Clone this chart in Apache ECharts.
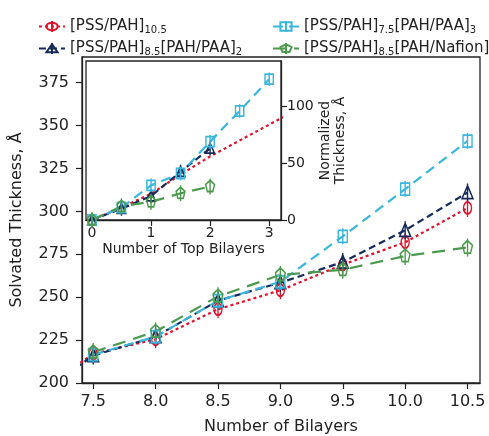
<!DOCTYPE html>
<html>
<head>
<meta charset="utf-8">
<script src="https://cdn.jsdelivr.net/npm/echarts@6/dist/echarts.min.js"></script>
<style>
  html, body { margin: 0; padding: 0; background: #fff; }
  #chart { width: 489px; height: 436px; }
</style>
</head>
<body>
<div id="chart"></div>
<script>
// main plot: solvated thickness vs number of bilayers (7.0 only feeds the clipped line start)
const bilayers = [7.0, 7.5, 8.0, 8.5, 9.0, 9.5, 10.0, 10.5];
const pssPah = [192, 217, 225.5, 243, 254, 269, 282, 302];
const pssPaa2 = [190, 216, 227, 248, 258.5, 270.5, 289, 311];
const pssPaa3 = [null, 216.5, 227, 248, 259, 285.5, 313, 341];
const pssNafion2 = [null, 218, 230, 250.5, 263, 266, 274, 279];

const xTicks = [7.5, 8.0, 8.5, 9.0, 9.5, 10.0, 10.5];
const yTicks = [200, 225, 250, 275, 300, 325, 350, 375];

// inset: normalized thickness vs number of top bilayers
const topBilayers = [0, 0.5, 1, 1.5, 2, 2.5, 3, 3.5];
const insetPssPah = [0, 11, 23, 40, 56, 70, 84, 98];
const insetPaa3 = [0, 11, 30.5, 41, 69, 96, 124];
const insetPaa2 = [0, 10, 21, 42.5, 63];
const insetNafion2 = [0, 12, 16, 23.5, 29.5];

const insetXTicks = [0, 1, 2, 3];
const insetYTicks = [0, 50, 100];

const legendText = {
  pah: '[PSS/PAH]{s|10.5}',
  paa2: '[PSS/PAH]{s|8.5}[PAH/PAA]{s|2}',
  paa3: '[PSS/PAH]{s|7.5}[PAH/PAA]{s|3}',
  nafion: '[PSS/PAH]{s|8.5}[PAH/Nafion]{s|2}'
};
const colors = { pah: '#e3122c', paa2: '#172a5c', paa3: '#3bb6dd', nafion: '#4c9a4e' };
const dashes = { pah: [3, 3], paa2: [7, 4], paa3: [10, 6], nafion: [13, 8] };

// open markers with the small error bar running through them
const symbols = {
  pah: 'path://M-6,0 A6,6 0 1 1 6,0 A6,6 0 1 1 -6,0 Z M0,-9 L0,9',
  paa2: 'path://M0,-7 L7,6 L-7,6 Z M0,-9 L0,9',
  paa3: 'path://M-6,-6 L6,-6 L6,6 L-6,6 Z M0,-8 L0,8',
  nafion: 'path://M0,-7 L6.66,-2.16 L4.11,5.66 L-4.11,5.66 L-6.66,-2.16 Z M0,-9 L0,9'
};
const symbolSizes = { pah: [12, 18], paa2: [14, 18], paa3: [12, 16], nafion: [13.3, 18] };

const font = 'DejaVu Sans';

function pairs(xs, ys) {
  let out = [];
  for (let i = 0; i < ys.length; i++) {
    if (ys[i] !== null) out.push([xs[i], ys[i]]);
  }
  return out;
}

function makeSeries(key, data, axis, opts) {
  return Object.assign({
    name: key,
    type: 'line',
    xAxisIndex: axis,
    yAxisIndex: axis,
    data: data,
    color: colors[key],
    symbol: symbols[key],
    symbolSize: symbolSizes[key],
    symbolKeepAspect: true,
    clip: true,
    z: axis ? 12 : 3,
    lineStyle: { color: colors[key], width: 2.2, type: dashes[key] },
    itemStyle: { color: 'rgba(255,255,255,0)', borderColor: colors[key], borderWidth: 1.6 },
    emphasis: { disabled: true },
    silent: true
  }, opts || {});
}

function legendBlock(keys, left) {
  return {
    data: keys,
    orient: 'vertical',
    left: left, top: 14,
    itemWidth: 26, itemHeight: 14, itemGap: 6,
    formatter: n => legendText[n],
    textStyle: {
      fontFamily: font, fontSize: 15, color: '#222',
      rich: { s: { fontFamily: font, fontSize: 10, padding: [7, 0, 0, 0], color: '#222' } }
    }
  };
}

const chart = echarts.init(document.getElementById('chart'));

const axisLine = { show: true, onZero: false, lineStyle: { color: '#222', width: 1.3 } };
const tickStyle = { color: '#222', width: 1.2 };

let option = {
  animation: false,
  backgroundColor: '#fff',
  textStyle: { fontFamily: font },
  legend: [legendBlock(['pah', 'paa2'], 33), legendBlock(['paa3', 'nafion'], 267)],
  grid: [
    { left: 82, top: 57, right: 9, bottom: 53, outerBoundsMode: 'none', show: true, borderColor: '#222', borderWidth: 1.3, backgroundColor: '#fff' },
    { left: 86, top: 61, right: 208, bottom: 216, outerBoundsMode: 'none', show: true, borderColor: '#222', borderWidth: 1.3, backgroundColor: '#fff', z: 10 }
  ],
  xAxis: [
    {
      type: 'value', gridIndex: 0, min: 7.41, max: 10.6,
      axisLine: axisLine, splitLine: { show: false },
      axisTick: { customValues: xTicks, length: 6, lineStyle: tickStyle },
      axisLabel: { customValues: xTicks, formatter: v => v.toFixed(1), fontSize: 16, color: '#222', margin: 11 },
      name: 'Number of Bilayers', nameLocation: 'middle', nameGap: 36,
      nameTextStyle: { fontSize: 16, color: '#222' }
    },
    {
      type: 'value', gridIndex: 1, min: -0.1, max: 3.2, z: 11,
      axisLine: axisLine, splitLine: { show: false },
      axisTick: { customValues: insetXTicks, length: 6, lineStyle: tickStyle },
      axisLabel: { customValues: insetXTicks, fontSize: 14, color: '#222', margin: 6 },
      name: 'Number of Top Bilayers', nameLocation: 'middle', nameGap: 22,
      nameTextStyle: { fontSize: 14, color: '#222' }
    }
  ],
  yAxis: [
    {
      type: 'value', gridIndex: 0, min: 200, max: 390,
      axisLine: axisLine, splitLine: { show: false },
      axisTick: { customValues: yTicks, length: 6, lineStyle: tickStyle },
      axisLabel: { customValues: yTicks, fontSize: 16, color: '#222', margin: 13 },
      name: 'Solvated Thickness, Å', nameLocation: 'middle', nameGap: 57,
      nameTextStyle: { fontSize: 16, color: '#222' }
    },
    {
      type: 'value', gridIndex: 1, position: 'right', min: 0, max: 140, z: 11,
      axisLine: axisLine, splitLine: { show: false },
      axisTick: { customValues: insetYTicks, length: 6, lineStyle: tickStyle },
      axisLabel: { customValues: insetYTicks, fontSize: 14, color: '#222', margin: 6 },
      name: 'Normalized\nThickness, Å', nameLocation: 'middle', nameGap: 37, nameRotate: 90,
      nameTextStyle: { fontSize: 14, color: '#222', lineHeight: 15 }
    }
  ],
  series: [
    makeSeries('pah', pairs(bilayers, pssPah), 0),
    makeSeries('paa2', pairs(bilayers, pssPaa2), 0),
    makeSeries('paa3', pairs(bilayers, pssPaa3), 0),
    makeSeries('nafion', pairs(bilayers, pssNafion2), 0),
    makeSeries('pah', pairs(topBilayers, insetPssPah), 1, { symbol: 'none' }),
    makeSeries('paa2', pairs(topBilayers, insetPaa2), 1, { symbolSize: [11, 14], clip: false }),
    makeSeries('paa3', pairs(topBilayers, insetPaa3), 1, { symbolSize: [11, 13.5], clip: false }),
    makeSeries('nafion', pairs(topBilayers, insetNafion2), 1, { symbolSize: [12, 16], clip: false })
  ]
};
chart.setOption(option);
</script>
</body>
</html>
